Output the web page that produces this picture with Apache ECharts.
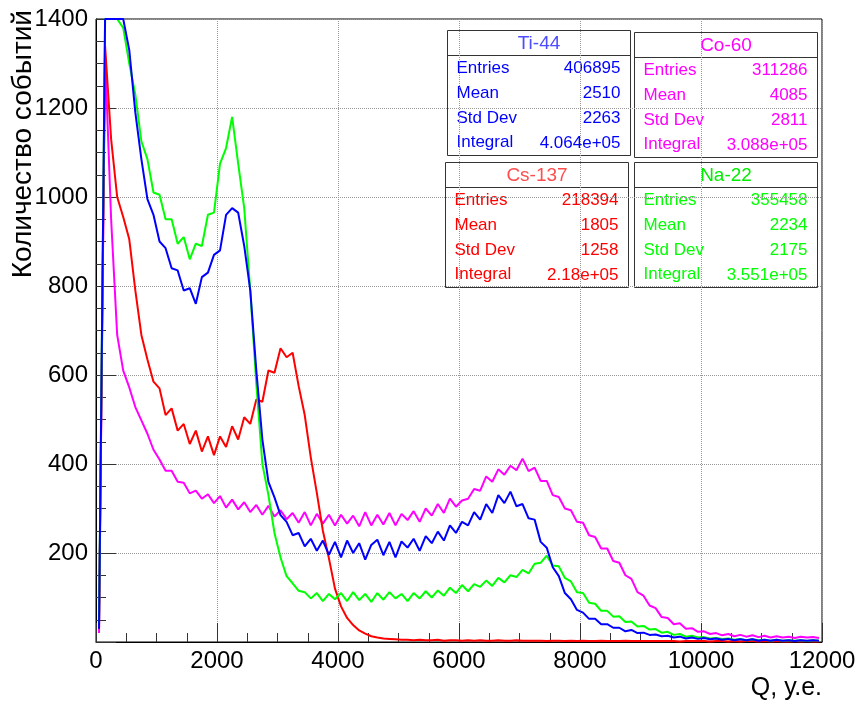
<!DOCTYPE html>
<html>
<head>
<meta charset="utf-8">
<title>Спектры</title>
<script src="https://cdn.jsdelivr.net/npm/echarts@6/dist/echarts.min.js"></script>
<style>
  html, body { margin: 0; padding: 0; background: #fff; }
  #chart { width: 861px; height: 705px; }
</style>
</head>
<body>
<div id="chart"></div>
<script>
// ширина бина гистограммы, Q (у.е.)
const BIN = 100;

// Ti-44
const tiValues = [
  30, 1400, 1400, 1400, 1400, 1330, 1190, 1085, 995, 960,
  900, 885, 840, 835, 790, 795, 760, 820, 830, 870,
  880, 960, 975, 965, 890, 790, 610, 455, 360, 325,
  285, 270, 240, 245, 215, 232, 205, 228, 196, 225,
  190, 228, 200, 222, 185, 218, 230, 195, 225, 190,
  226, 212, 232, 205, 238, 222, 248, 228, 262, 245,
  270, 262, 292, 275, 310, 290, 330, 312, 338, 305,
  310, 278, 275, 225, 212, 168, 148, 110, 96, 72,
  66, 52, 52, 40, 40, 32, 32, 24, 27, 20,
  21, 16, 17, 13, 14, 10, 12, 8, 10, 7,
  9, 6, 8, 5, 7, 4, 6, 4, 6, 3,
  5, 3, 5, 3, 4, 2, 4, 3, 4, 3
];

// Co-60
const coValues = [
  20, 1320, 950, 690, 610, 572, 528, 498, 468, 432,
  410, 385, 385, 360, 358, 334, 340, 322, 332, 312,
  328, 302, 320, 298, 314, 292, 308, 286, 306, 282,
  296, 276, 290, 268, 292, 262, 288, 266, 286, 262,
  286, 266, 284, 260, 292, 262, 286, 264, 290, 262,
  288, 274, 294, 270, 300, 284, 310, 290, 322, 304,
  318, 322, 344, 340, 372, 360, 388, 376, 396, 386,
  412, 384, 392, 362, 362, 330, 326, 300, 296, 270,
  268, 240, 236, 210, 210, 182, 178, 150, 142, 112,
  104, 82, 76, 56, 54, 40, 42, 30, 31, 23,
  24, 18, 20, 15, 18, 13, 16, 12, 15, 11,
  14, 10, 13, 10, 12, 9, 12, 10, 11, 9
];

// Cs-137
const csValues = [
  30, 1340, 1130, 1000, 955, 905, 790, 690, 635, 585,
  570, 510, 525, 475, 490, 445, 475, 428, 462, 420,
  462, 438, 485, 455, 505, 490, 545, 540, 610, 605,
  660, 640, 650, 575, 510, 415, 335, 250, 188, 120,
  80, 54, 38, 26, 19, 13, 10, 8, 7, 6,
  5, 5, 4, 5, 4, 4, 5, 3, 4, 4,
  3, 4, 3, 4, 3, 3, 4, 3, 3, 4,
  3, 3, 3, 3, 2, 3, 3, 2, 3, 2,
  3, 2, 2, 3, 2, 2, 2, 3, 2, 2,
  2, 2, 2, 2, 2, 2, 1, 2, 2, 2,
  2, 1, 2, 2, 1, 2, 1, 2, 2, 1,
  2, 1, 2, 1, 1, 2, 1, 2, 1, 1
];

// Na-22
const naValues = [
  40, 1400, 1400, 1400, 1380, 1300, 1230, 1125, 1085, 1010,
  1005, 950, 950, 895, 910, 860, 895, 890, 960, 965,
  1075, 1110, 1180, 1075, 975, 790, 580, 400, 330, 245,
  190, 148, 132, 115, 112, 98, 110, 92, 108, 96,
  110, 92, 112, 94, 108, 90, 110, 95, 112, 98,
  108, 92, 110, 98, 114, 100, 116, 104, 122, 110,
  128, 114, 130, 124, 138, 126, 144, 134, 150, 146,
  162, 154, 176, 178, 194, 172, 170, 144, 136, 112,
  110, 88, 86, 70, 70, 57, 58, 45, 46, 35,
  36, 28, 29, 21, 23, 16, 18, 12, 14, 10,
  11, 8, 9, 7, 8, 5, 7, 4, 6, 4,
  5, 3, 5, 3, 4, 3, 4, 2, 4, 3
];

// статистика из панелей
const statRows = ['Entries', 'Mean', 'Std Dev', 'Integral'];
const tiStats = ['406895', '2510', '2263', '4.064e+05'];
const coStats = ['311286', '4085', '2811', '3.088e+05'];
const csStats = ['218394', '1805', '1258', '2.18e+05'];
const naStats = ['355458', '2234', '2175', '3.551e+05'];

const FONT = '"Liberation Sans", Arial, Helvetica, sans-serif';

// гистограмма -> точки [центр бина, значение]
function toPoints(values) {
  return values.map((v, i) => [i * BIN + BIN / 2, v]);
}

function histSeries(name, color, values) {
  return {
    name: name,
    type: 'line',
    symbol: 'none',
    silent: true,
    lineStyle: { color: color, width: 2 },
    data: toPoints(values)
  };
}

// панель статистики (как в ROOT)
function statBox(left, top, title, titleColor, color, stats) {
  const w = 183, h = 125;
  const children = [
    { type: 'rect', shape: { x: 0, y: 0, width: w, height: h },
      style: { fill: '#fff', stroke: '#333', lineWidth: 1 } },
    { type: 'line', shape: { x1: 0, y1: 25, x2: w, y2: 25 },
      style: { stroke: '#333', lineWidth: 1 } },
    { type: 'text', x: w / 2, y: 13,
      style: { text: title, fill: titleColor, font: '19px ' + FONT, textAlign: 'center', textVerticalAlign: 'middle' } }
  ];
  const rowY = [38, 63, 88, 112];
  statRows.forEach((r, i) => {
    children.push({ type: 'text', x: 9, y: rowY[i],
      style: { text: r, fill: color, font: '17px ' + FONT, textAlign: 'left', textVerticalAlign: 'middle' } });
    children.push({ type: 'text', x: w - 10, y: rowY[i] + (i === 3 ? 1 : 0),
      style: { text: stats[i], fill: color, font: '17px ' + FONT, textAlign: 'right', textVerticalAlign: 'middle' } });
  });
  return { type: 'group', left: left, top: top, z: 100, children: children };
}

const chartDom = document.getElementById('chart');
const myChart = echarts.init(chartDom);

const option = {
  backgroundColor: '#fff',
  animation: false,
  grid: {
    left: 96,
    top: 19,
    right: 39,
    bottom: 63,
    show: true,
    borderColor: '#000',
    borderWidth: 1,
    backgroundColor: 'transparent'
  },
  xAxis: {
    type: 'value',
    min: 0,
    max: 12000,
    interval: 2000,
    axisLine: { lineStyle: { color: '#000', width: 1 } },
    axisTick: { inside: true, length: 19, lineStyle: { color: '#333' } },
    minorTick: { show: true, splitNumber: 4, length: 9, lineStyle: { color: '#333' } },
    axisLabel: { fontSize: 24, color: '#000', fontFamily: FONT, margin: 7, formatter: v => String(v) },
    splitLine: { show: true, lineStyle: { color: '#999', type: 'dotted', width: 1 } }
  },
  yAxis: {
    type: 'value',
    min: 0,
    max: 1400,
    interval: 200,
    axisLine: { show: true, lineStyle: { color: '#000', width: 1 } },
    axisTick: { show: true, inside: true, length: 20, lineStyle: { color: '#333' } },
    minorTick: { show: true, splitNumber: 4, length: 10, lineStyle: { color: '#333' } },
    axisLabel: { fontSize: 24, color: '#000', fontFamily: FONT, margin: 8, showMinLabel: false, formatter: v => String(v) },
    splitLine: { show: true, lineStyle: { color: '#999', type: 'dotted', width: 1 } }
  },
  series: [
    histSeries('Co-60', '#ff00ff', coValues),
    histSeries('Cs-137', '#ff0000', csValues),
    histSeries('Na-22', '#00ff00', naValues),
    histSeries('Ti-44', '#0000ff', tiValues)
  ],
  graphic: [
    // подписи осей
    { type: 'text', x: 822, y: 688, z: 100,
      style: { text: 'Q, у.е.', fill: '#000', font: '25px ' + FONT, textAlign: 'right', textVerticalAlign: 'middle' } },
    { type: 'text', x: 23, y: 10, rotation: Math.PI / 2, z: 100,
      style: { text: 'Количество событий', fill: '#000', font: '28px ' + FONT, textAlign: 'right', textVerticalAlign: 'middle' } },
    statBox(445, 30, 'Ti-44', '#4d4dff', '#0000ff', tiStats),
    statBox(632, 32, 'Co-60', '#ff00ff', '#ff00ff', coStats),
    statBox(443, 162, 'Cs-137', '#ff4d4d', '#ff0000', csStats),
    statBox(632, 162, 'Na-22', '#00ee00', '#00ff00', naStats)
  ]
};

myChart.setOption(option);

window.addEventListener('resize', () => {
  myChart.resize();
});
</script>
</body>
</html>
